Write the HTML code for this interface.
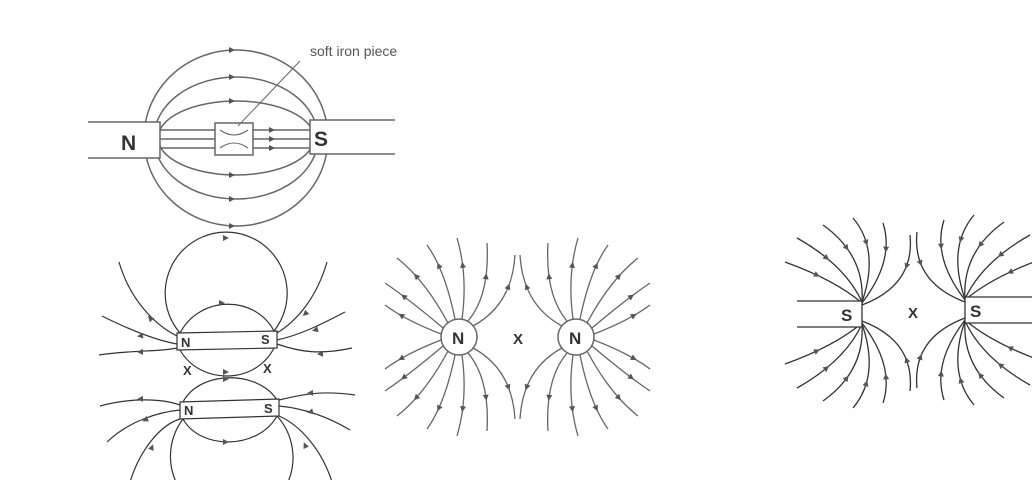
<!DOCTYPE html>
<html><head><meta charset="utf-8">
<style>
html,body{margin:0;padding:0;background:#fff;width:1032px;height:480px;overflow:hidden}
svg{display:block}
text{font-family:"Liberation Sans",sans-serif;font-weight:bold;fill:#333}
</style></head>
<body>
<svg id="s" width="1032" height="480" viewBox="0 0 1032 480" xmlns="http://www.w3.org/2000/svg">
<g fill="none" stroke="#666" stroke-width="1.5">
<ellipse cx="236" cy="138" rx="92" ry="88"/>
<ellipse cx="236" cy="138" rx="82" ry="61"/>
<ellipse cx="236" cy="138" rx="78" ry="37"/>
<path d="M160 130 H310 M160 139 H310 M160 148 H310"/>
<path d="M88 122 H160 V158 H88" fill="#fff"/>
<path d="M395 120 H310 V154 H395" fill="#fff"/>
<rect x="215" y="123" width="38" height="32" fill="#fff"/>
<path d="M220 130 Q234 140 248 130 M220 148 Q234 138 248 148" stroke-width="1.1"/>
<path d="M300 61 L238 126" stroke-width="1"/>
<g stroke="#333" stroke-width="1.2">
<path d="M180 333 A61 61 0 1 1 274 331"/>
<path d="M180 333 C200 295 255 295 274 331"/>
<path d="M180 350 C200 385 255 385 274 348"/>
<path d="M119 262 C130 300 155 325 177 336"/>
<path d="M102 316 C130 330 155 340 177 344"/>
<path d="M99 355 C130 350 160 352 177 348"/>
<path d="M327 262 C316 300 295 322 277 333"/>
<path d="M345 312 C320 325 300 335 277 340"/>
<path d="M352 348 C320 355 300 352 277 344"/>
<path d="M177 333 L277 331 L277 348 L177 350 Z" fill="#fff"/>
<path d="M183 402 C200 370 258 370 277 400"/>
<path d="M183 419 C200 450 258 450 277 416"/>
<path d="M183 419 A62 62 0 0 0 176 482 M277 416 A62 62 0 0 1 288 482"/>
<path d="M100 406 C130 398 160 398 180 405"/>
<path d="M107 442 C130 420 160 412 180 410"/>
<path d="M130 482 C140 450 160 425 180 419"/>
<path d="M355 395 C320 390 300 395 279 400"/>
<path d="M350 430 C325 415 300 408 279 406"/>
<path d="M332 482 C322 450 300 425 279 416"/>
<path d="M180 402 L279 399 L279 416 L180 419 Z" fill="#fff"/>
</g>
</g>
<g id="gen"></g>
<circle cx="459" cy="337" r="18" fill="#fff" stroke="#666" stroke-width="1.5"/>
<circle cx="576" cy="337" r="18" fill="#fff" stroke="#666" stroke-width="1.5"/>
<g fill="none" stroke="#333" stroke-width="1.3">
<path d="M797 301 H862 V327 H797 M1032 297 H965 V323 H1032" fill="#fff"/>
</g>
<g fill="#555" stroke="none" id="arr"></g>
<text x="121" y="150" font-size="21">N</text>
<text x="314" y="146" font-size="21">S</text>
<text x="310" y="56" font-size="14" style="font-weight:normal;fill:#555">soft iron piece</text>
<text x="181" y="347" font-size="13">N</text>
<text x="261" y="344" font-size="13">S</text>
<text x="183" y="375" font-size="13">X</text>
<text x="263" y="373" font-size="13">X</text>
<text x="184" y="415" font-size="13">N</text>
<text x="264" y="413" font-size="13">S</text>
<text x="452" y="344" font-size="17">N</text>
<text x="569" y="344" font-size="17">N</text>
<text x="513" y="344" font-size="15">X</text>
<text x="841" y="321" font-size="17">S</text>
<text x="970" y="317" font-size="17">S</text>
<text x="908" y="318" font-size="15">X</text>
</svg>
<script>
var NS="http://www.w3.org/2000/svg",gen=document.getElementById('gen'),arr=document.getElementById('arr');
function arrow(x,y,ang){var p=document.createElementNS(NS,'path');var c=Math.cos(ang),s=Math.sin(ang);
var L=6,W=3;p.setAttribute('d','M'+(x+c*L/2)+' '+(y+s*L/2)+'L'+(x-c*L/2-s*W)+' '+(y-s*L/2+c*W)+'L'+(x-c*L/2+s*W)+' '+(y-s*L/2-c*W)+'Z');arr.appendChild(p)}
function q(P,t){var u=1-t;return [u*u*P[0][0]+2*u*t*P[1][0]+t*t*P[2][0],u*u*P[0][1]+2*u*t*P[1][1]+t*t*P[2][1]]}
function line(P,out,color){var p=document.createElementNS(NS,'path');
p.setAttribute('d','M'+P[0]+'Q'+P[1]+' '+P[2]);p.setAttribute('fill','none');p.setAttribute('stroke',color);p.setAttribute('stroke-width','1.3');gen.appendChild(p);
var a=q(P,0.65),b=q(P,0.68);var ang=Math.atan2(b[1]-a[1],b[0]-a[0]);if(!out)ang+=Math.PI;arrow(a[0],a[1],ang)}
[[232,50],[232,77],[232,101],[232,175],[232,199],[232,226]].forEach(function(a){arrow(a[0],a[1],0)});
[130,139,148].forEach(function(y){arrow(272,y,0)});
[[226,238,0],[222,303,0],[226,372,0],[226,379,0],[226,442,0]].forEach(function(a){arrow(a[0],a[1],a[2])});
[[150,318,-2.3],[140,336,3.0],[140,352,3.1],[305,314,2.4],[315,330,2.9],[320,354,3.1],[140,399,3.1],[145,420,2.7],[152,447,-1.2],[310,393,3.1],[310,412,2.9],[305,445,-2.0]].forEach(function(a){arrow(a[0],a[1],a[2])});
var L3=[[[473,326],[512,305],[515,255]],[[468,321],[490,295],[487,243]],[[462,319],[468,275],[457,238]],[[455,319],[445,270],[427,245]],[[448,323],[425,280],[397,258]],[[443,328],[410,300],[385,283]],[[441,334],[405,320],[385,305]]];
L3.forEach(function(P){[1,-1].forEach(function(vs){[0,1].forEach(function(h){
 var Q=P.map(function(p){var x=p[0],y=337+vs*(p[1]-337);if(h)x=1035-x;return [x,y]});line(Q,true,'#666');});});});
var L4=[[[862,305],[915,285],[910,235]],[[862,303],[895,260],[883,223]],[[862,302],[880,250],[853,218]],[[862,302],[865,255],[823,225]],[[862,302],[845,265],[797,238]],[[862,303],[835,280],[785,262]]];
L4.forEach(function(P){[1,-1].forEach(function(vs){
 line(P.map(function(p){return [p[0],313+vs*(p[1]-313)]}),false,'#333');
 line(P.map(function(p){return [1827-p[0],310+vs*(p[1]-313)]}),false,'#333');});});
</script>
</body></html>
